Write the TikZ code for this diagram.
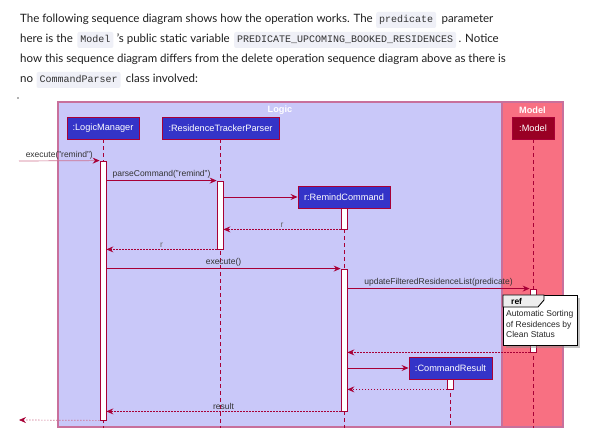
\documentclass[tikz,border=0pt]{standalone}
\usepackage{fontspec}
\setmainfont{Liberation Sans}
\newfontfamily\parafont{Lato}
\newfontfamily\codefont{Liberation Mono}
\usetikzlibrary{positioning,arrows.meta,shadows}

\definecolor{umlred}{HTML}{A80036}
\definecolor{logicbg}{HTML}{C9C8F9}
\definecolor{frameline}{HTML}{C8709C}
\definecolor{modelbg}{HTML}{F87082}
\definecolor{partblue}{HTML}{3434C8}
\definecolor{modeldark}{HTML}{990024}
\definecolor{chipbg}{HTML}{EFF0F7}
\definecolor{refgray}{HTML}{EEEEEE}

\tikzset{
  para/.style={font=\parafont\fontsize{11.5}{14}\selectfont, text=black!88, inner sep=0pt, anchor=base west},
  chip/.style={font=\codefont\fontsize{10}{12}\selectfont, fill=chipbg, rounded corners=2pt, text=black!80,
    inner xsep=3pt, inner ysep=3pt, text height=8pt, text depth=2pt, anchor=base west},
  part/.style={draw=umlred, fill=partblue, text=white, line width=0.9pt,
    font=\fontsize{9.2}{11}\selectfont, inner sep=0pt, minimum height=22pt},
  act/.style={draw=umlred, fill=white, line width=0.8pt, inner sep=0pt, minimum width=6pt},
  life/.style={umlred, line width=0.8pt, dash pattern=on 4pt off 3pt},
  msg/.style={umlred, line width=0.7pt, -{Stealth[length=7pt,width=6pt,inset=2.5pt]}},
  ret/.style={msg, dash pattern=on 1.5pt off 1.5pt},
  lbl/.style={font=\fontsize{8.5}{10}\selectfont, text=black!80, above=0.5pt, inner sep=1pt},
  frame/.style={draw=frameline, line width=1.2pt},
  ftitle/.style={font=\bfseries\fontsize{9.2}{11}\selectfont, text=white}
}

\begin{document}
\begin{tikzpicture}[x=1pt,y=-1pt]
\useasboundingbox[fill=white] (0,0) rectangle (598,438);

% text above the diagram
\node[para] (l1a) at (20,23) {The following sequence diagram shows how the operation works. The};
\node[chip, base right=3pt of l1a] (l1b) {predicate};
\node[para, base right=5pt of l1b] (l1c) {parameter};
\node[para] (l2a) at (20,43) {here is the};
\node[chip, base right=4pt of l2a] (l2b) {Model};
\node[para, base right=3pt of l2b] (l2c) {’s public static variable};
\node[chip, base right=4pt of l2c] (l2d) {PREDICATE\_UPCOMING\_BOOKED\_RESIDENCES};
\node[para, base right=2pt of l2d] (l2e) {. Notice};
\node[para] (l3a) at (20,63) {how this sequence diagram differs from the delete operation sequence diagram above as there is};
\node[para] (l4a) at (20,83) {no};
\node[chip, base right=3pt of l4a] (l4b) {CommandParser};
\node[para, base right=5pt of l4b] (l4c) {class involved:};
\fill[black!30] (17,97) rectangle (19,99);

% boxes
\draw[frame, fill=logicbg] (58,102) rectangle (502,427);
\draw[frame, fill=modelbg] (502,102) rectangle (563,427);
\node[ftitle] (logicT) at (280,110) {Logic};
\node[ftitle] (modelT) at (532.5,110) {Model};
\coordinate (bot) at (0,428);

% participants
\node[part, minimum width=72pt] (lm) at (103,128) {:LogicManager};
\node[part, minimum width=117pt] (ps) at (220.5,128) {:ResidenceTrackerParser};
\node[part, minimum width=92pt] (rc) at (344,197) {r:RemindCommand};
\node[part, minimum width=83pt] (cr) at (450.5,368) {:CommandResult};
\node[part, fill=modeldark, minimum width=42pt] (md) at (533,128) {:Model};

% lifelines
\draw[life] (lm.south) -- (lm.south |- bot);
\draw[life] (ps.south) -- (ps.south |- bot);
\draw[life] (rc.south) -- (rc.south |- bot);
\draw[life] (cr.south) -- (cr.south |- bot);
\draw[life] (md.south) -- (md.south |- bot);

% activations
\node[act, minimum height=259pt] (lmA) at (103,290.5) {};
\node[act, minimum height=68pt] (psA) at (220,215) {};
\node[act, minimum height=21pt] (rcA) at (344,218.5) {};
\node[act, minimum height=142pt] (rcB) at (344,340) {};
\node[act, minimum height=63pt] (mdA) at (533,320.5) {};
\node[act, minimum height=10pt] (crA) at (450.5,384) {};

% messages
\coordinate (inS) at (19,161);
\coordinate (outE) at (19,420);
\draw[msg, umlred!55, -{Stealth[length=7pt,width=6pt,inset=2.5pt,color=umlred]}] (inS) -- (lmA.north west)
  node[lbl, midway] {execute("remind")};
\draw[msg] (lmA.east |- psA.north) -- (psA.north west) node[lbl, midway] {parseCommand("remind")};
\draw[msg] (psA.east |- rc.west) -- (rc.west);
\draw[ret] (rcA.south west) -- (psA.east |- rcA.south) node[lbl, midway, text=black!60] {r};
\draw[ret] (psA.south west) -- (lmA.east |- psA.south) node[lbl, midway, text=black!60] {r};
\draw[msg] (lmA.east |- rcB.north) -- (rcB.north west) node[lbl, midway] {execute()};
\draw[msg] (rcB.east |- mdA.north) -- (mdA.north west) node[lbl, midway] {updateFilteredResidenceList(predicate)};
\draw[ret] (mdA.south west) -- (rcB.east |- mdA.south);
\draw[msg] (rcB.east |- cr.west) -- (cr.west);
\draw[ret] (crA.south west) -- (rcB.east |- crA.south);
\draw[ret] (rcB.south west) -- (lmA.east |- rcB.south) node[lbl, midway] {result};
\draw[ret, umlred!55, -{Stealth[length=7pt,width=6pt,inset=2.5pt,color=umlred]}] (lmA.south west) -- (outE);

% reference
\node[draw=black, fill=white, line width=1.2pt, minimum width=74pt, minimum height=50pt, anchor=north west,
  drop shadow={shadow xshift=2.5pt, shadow yshift=-2.5pt, fill=black!45}] (refB) at (503,295) {};
\draw[fill=refgray, line width=0.9pt] (refB.north west) -- ++(41,0) -- ++(0,5) -- ++(-6,7) -- ++(-35,0) -- cycle;
\node[font=\bfseries\fontsize{8.5}{10}\selectfont, anchor=west, inner sep=0pt] (refT) at (511,301.5) {ref};
\node[font=\fontsize{8.5}{10.7}\selectfont, text=black!85, align=left, anchor=north west, inner sep=0pt] (refX)
  at (506,310) {Automatic Sorting\\of Residences by\\Clean Status};
\end{tikzpicture}
\end{document}
